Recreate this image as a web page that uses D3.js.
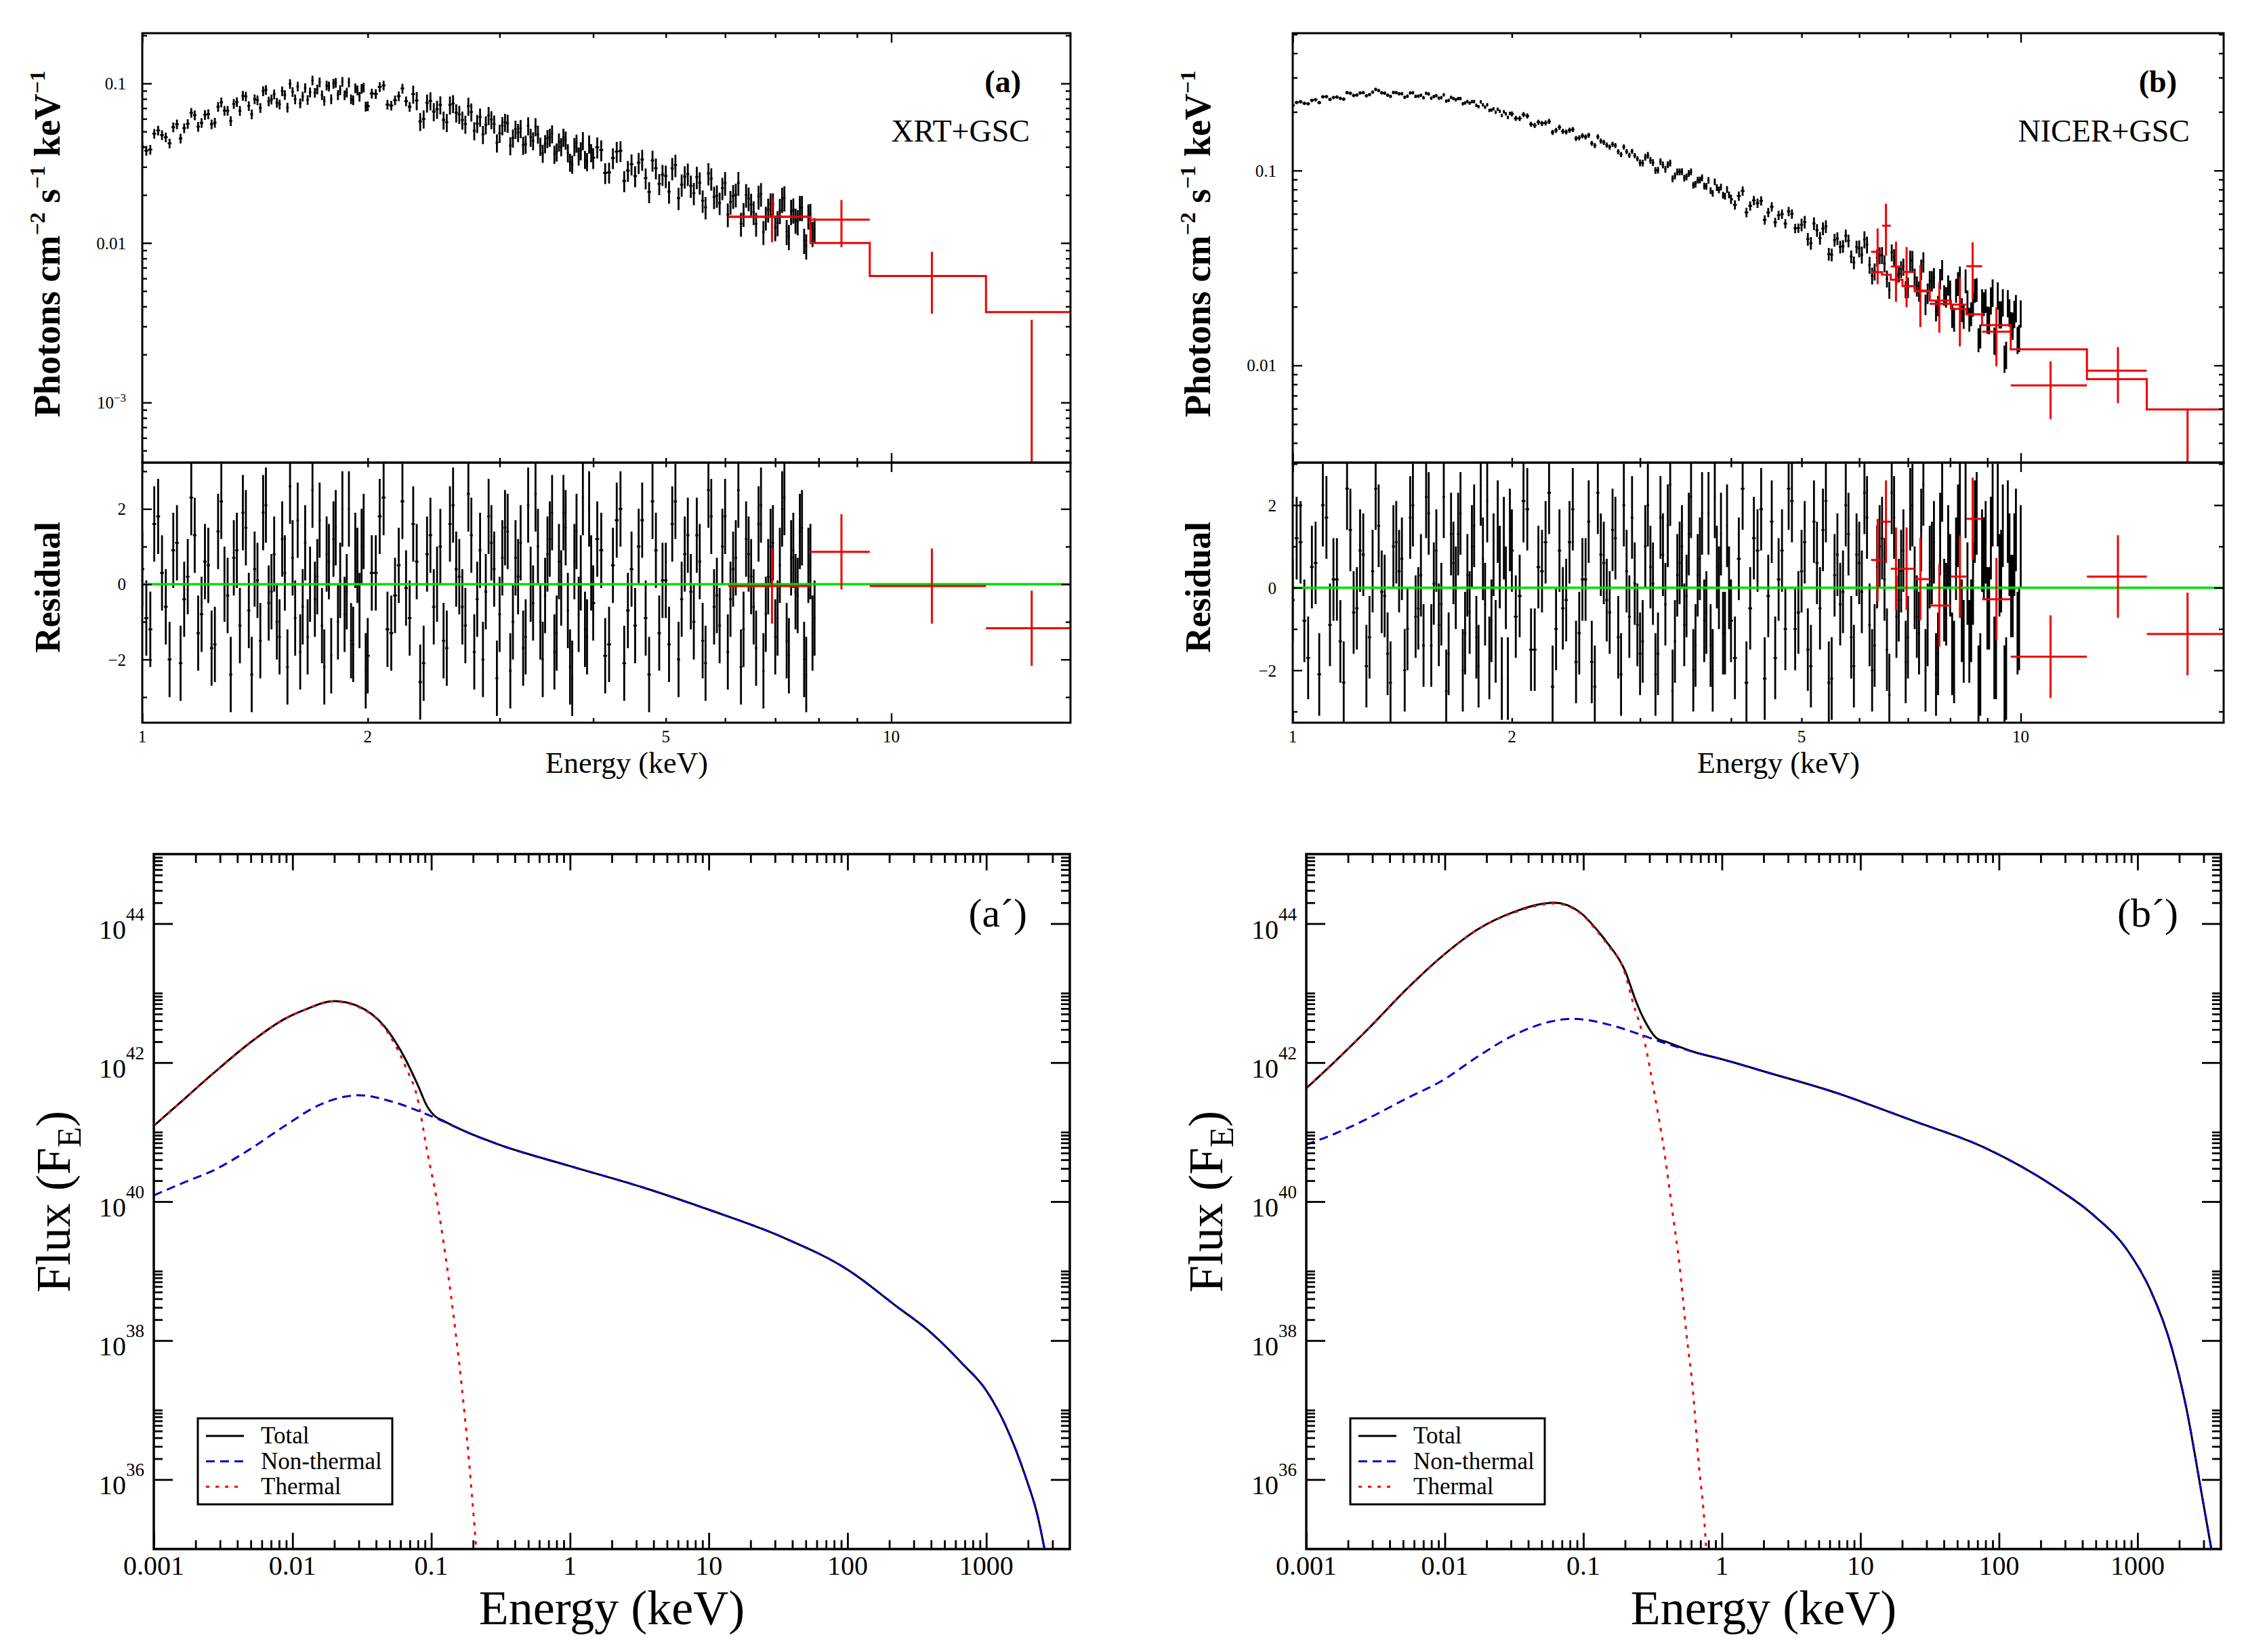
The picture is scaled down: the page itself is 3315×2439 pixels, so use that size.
<!DOCTYPE html>
<html>
<head>
<meta charset="utf-8">
<script src="https://cdn.jsdelivr.net/npm/d3@7"></script>
<style>
  body { margin: 0; background: #fff; }
  svg text { font-family: "Liberation Serif", "Times New Roman", serif; white-space: pre; }
</style>
</head>
<body>
<svg id="fig" width="3315" height="2439"></svg>
<script>
// ---------- spectral fits, top row ----------
// Swift/XRT bins (black), panel (a)
const xrtEnergy = [
  1.0000, 1.0125, 1.0250, 1.0375, 1.0500, 1.0625, 1.0750, 1.0875, 1.1000, 1.1125,
  1.1250, 1.1375, 1.1500, 1.1625, 1.1750, 1.1875, 1.2000, 1.2125, 1.2250, 1.2375,
  1.2500, 1.2625, 1.2750, 1.2875, 1.3000, 1.3125, 1.3250, 1.3375, 1.3500, 1.3625,
  1.3750, 1.3875, 1.4000, 1.4125, 1.4250, 1.4375, 1.4500, 1.4625, 1.4750, 1.4875,
  1.5000, 1.5125, 1.5250, 1.5375, 1.5500, 1.5625, 1.5750, 1.5875, 1.6000, 1.6125,
  1.6250, 1.6375, 1.6500, 1.6625, 1.6750, 1.6875, 1.7000, 1.7125, 1.7250, 1.7375,
  1.7500, 1.7625, 1.7750, 1.7875, 1.8000, 1.8125, 1.8250, 1.8375, 1.8500, 1.8625,
  1.8750, 1.8875, 1.9000, 1.9125, 1.9250, 1.9375, 1.9500, 1.9625, 1.9750, 1.9875,
  2.000, 2.025, 2.050, 2.075, 2.100, 2.125, 2.150, 2.175, 2.200, 2.225,
  2.250, 2.275, 2.300, 2.325, 2.350, 2.375, 2.400, 2.425, 2.450, 2.475,
  2.500, 2.525, 2.550, 2.575, 2.600, 2.625, 2.650, 2.675, 2.700, 2.725,
  2.750, 2.775, 2.800, 2.825, 2.850, 2.875, 2.900, 2.925, 2.950, 2.975,
  3.000, 3.025, 3.050, 3.075, 3.100, 3.125, 3.150, 3.175, 3.200, 3.225,
  3.250, 3.275, 3.300, 3.325, 3.350, 3.375, 3.400, 3.425, 3.450, 3.475,
  3.500, 3.525, 3.550, 3.575, 3.600, 3.625, 3.650, 3.675, 3.700, 3.725,
  3.750, 3.775, 3.800, 3.825, 3.850, 3.875, 3.900, 3.925, 3.950, 3.975,
  4.00, 4.05, 4.10, 4.15, 4.20, 4.25, 4.30, 4.35, 4.40, 4.45,
  4.50, 4.55, 4.60, 4.65, 4.70, 4.75, 4.80, 4.85, 4.90, 4.95,
  5.00, 5.05, 5.10, 5.15, 5.20, 5.25, 5.30, 5.35, 5.40, 5.45,
  5.50, 5.55, 5.60, 5.65, 5.70, 5.75, 5.80, 5.85, 5.90, 5.95,
  6.00, 6.05, 6.10, 6.15, 6.20, 6.25, 6.30, 6.35, 6.40, 6.45,
  6.50, 6.55, 6.60, 6.65, 6.70, 6.75, 6.80, 6.85, 6.90, 6.95,
  7.00, 7.05, 7.10, 7.15, 7.20, 7.25, 7.30, 7.35, 7.40, 7.45,
  7.50, 7.55, 7.60, 7.65, 7.70, 7.75, 7.80, 7.85, 7.90
];
const xrtFlux = [
  .0401, .0379, .0385, .0484, .0507, .0475, .0460, .0421, .0532, .0555,
  .0452, .0525, .0558, .0656, .0633, .0536, .0566, .0636, .0642, .0555,
  .0568, .0714, .0762, .0675, .0675, .0582, .0745, .0765, .0674, .0838,
  .0829, .0723, .0641, .0797, .0785, .0703, .0895, .0912, .0772, .0794,
  .0855, .0758, .0740, .0894, .0847, .0706, .0993, .0886, .0796, .0957,
  .0752, .0829, .0937, .0789, .0880, .1046, .0875, .0918, .1018, .0845,
  .0778, .0972, .0959, .0798, .0997, .1011, .0846, .0911, .1026, .0845,
  .0878, .1015, .0797, .0786, .0935, .0906, .0827, .0926, .0944, .0717,
  .0721, .0865, .0860, .0950, .0971, .0737, .0726, .0786, .0832, .0929,
  .0774, .0715, .0857, .0781, .0578, .0599, .0755, .0778, .0666, .0690,
  .0734, .0590, .0570, .0733, .0748, .0655, .0640, .0590, .0556, .0721,
  .0662, .0505, .0561, .0616, .0479, .0551, .0629, .0593, .0557, .0424,
  .0487, .0544, .0571, .0562, .0408, .0455, .0517, .0493, .0522, .0410,
  .0417, .0543, .0460, .0437, .0536, .0481, .0405, .0365, .0420, .0452,
  .0460, .0484, .0360, .0372, .0430, .0402, .0461, .0442, .0368, .0321,
  .0312, .0403, .0423, .0351, .0379, .0438, .0334, .0324, .0418, .0369,
  .0342, .0398, .0382, .0275, .0277, .0341, .0374, .0378, .0245, .0284,
  .0312, .0263, .0319, .0333, .0255, .0209, .0329, .0294, .0235, .0268,
  .0263, .0210, .0294, .0308, .0191, .0232, .0261, .0271, .0228, .0205,
  .0259, .0239, .0184, .0167, .0273, .0253, .0194, .0198, .0178, .0221,
  .0238, .0151, .0181, .0197, .0201, .0238, .0132, .0152, .0200, .0190,
  .0174, .0156, .0132, .0195, .0203, .0117, .0144, .0162, .0175, .0175,
  .0125, .0134, .0160, .0188, .0192, .0118, .0110, .0158, .0161, .0139,
  .0136, .0167, .0167, .0104, .0096, .0148, .0149, .0115, .0121
];
const xrtResid = [
  0.4, -0.9, -1.2, 1.6, 1.8, 0.3, -0.6, -2.0, 0.9, 1.1,
  -2.1, -0.4, 0.2, 2.3, 1.3, -1.3, -0.8, 0.6, 0.5, -1.7,
  -1.6, 1.4, 2.2, 0.0, -0.3, -2.4, 0.7, 0.9, -1.1, 1.9,
  1.5, -0.7, -2.4, 0.4, 0.1, -1.5, 1.9, 2.1, -0.5, -0.2,
  0.8, -1.0, -1.4, 1.2, 0.3, -2.2, 2.6, 0.7, -0.9, 1.7,
  -1.8, -0.6, 1.1, -1.4, 0.0, 2.5, -0.4, 0.2, 1.7, -1.1,
  -2.2, 0.8, 0.6, -1.9, 1.2, 1.5, -1.0, 0.1, 2.0, -0.8,
  -0.2, 2.0, -1.5, -1.6, 0.9, 0.5, -0.7, 1.0, 1.4, -2.3,
  -1.9, 0.3, 0.3, 1.8, 2.3, -1.2, -1.3, -0.3, 0.5, 2.2,
  -0.1, -0.9, 1.6, 0.6, -2.6, -2.1, 0.8, 1.3, -0.6, 0.0,
  1.0, -1.5, -1.7, 1.6, 2.1, 0.4, 0.2, -0.6, -1.1, 2.4,
  1.3, -1.8, -0.4, 0.9, -2.0, -0.2, 1.8, 1.1, 0.4, -2.5,
  -0.8, 0.7, 1.5, 1.4, -2.3, -1.0, 0.7, 0.2, 1.1, -1.7,
  -1.4, 2.1, 0.0, -0.5, 2.4, 1.0, -1.0, -2.0, -0.3, 0.8,
  1.2, 1.9, -1.8, -1.3, 0.6, -0.1, 1.9, 1.5, -0.7, -2.2,
  -2.5, 0.6, 1.4, -0.8, 0.3, 2.3, -1.2, -1.4, 2.0, 0.3,
  -0.5, 1.2, 0.9, -1.9, -1.6, 0.5, 1.7, 2.0, -2.1, -0.7,
  0.4, -1.1, 1.0, 1.7, -0.9, -2.4, 2.2, 0.9, -1.3, 0.1,
  0.1, -1.6, 1.6, 2.2, -2.0, -0.4, 0.8, 1.3, -0.2, -1.0,
  1.3, 0.6, -1.5, -2.1, 2.5, 1.8, -0.6, -0.3, -1.1, 1.0,
  1.8, -1.8, -0.4, 0.4, 0.7, 2.5, -2.2, -1.2, 1.2, 0.8,
  0.2, -0.6, -1.7, 1.6, 2.1, -2.3, -0.8, 0.2, 1.0, 1.1,
  -1.4, -0.9, 0.5, 2.0, 2.3, -1.5, -1.9, 0.7, 0.9, -0.2,
  -0.3, 1.4, 1.5, -2.0, -2.4, 0.5, 0.6, -1.3, -0.9
];
// fractional 1-sigma error of the XRT bins, by energy band (upper band edges in keV)
const xrtErrEdges = [2.3, 4, 5, 6, 7, 9];
const xrtRelErr = [0.07, 0.13, 0.15, 0.16, 0.17, 0.18];

// NICER bins (black), panel (b)
const nicerEnergy = [
  1.0000, 1.0125, 1.0250, 1.0375, 1.0500, 1.0625, 1.0750, 1.0875, 1.1000, 1.1125,
  1.1250, 1.1375, 1.1500, 1.1625, 1.1750, 1.1875, 1.2000, 1.2125, 1.2250, 1.2375,
  1.2500, 1.2625, 1.2750, 1.2875, 1.3000, 1.3125, 1.3250, 1.3375, 1.3500, 1.3625,
  1.3750, 1.3875, 1.4000, 1.4125, 1.4250, 1.4375, 1.4500, 1.4625, 1.4750, 1.4875,
  1.5000, 1.5125, 1.5250, 1.5375, 1.5500, 1.5625, 1.5750, 1.5875, 1.6000, 1.6125,
  1.6250, 1.6375, 1.6500, 1.6625, 1.6750, 1.6875, 1.7000, 1.7125, 1.7250, 1.7375,
  1.7500, 1.7625, 1.7750, 1.7875, 1.8000, 1.8125, 1.8250, 1.8375, 1.8500, 1.8625,
  1.8750, 1.8875, 1.9000, 1.9125, 1.9250, 1.9375, 1.9500, 1.9625, 1.9750, 1.9875,
  2.000, 2.025, 2.050, 2.075, 2.100, 2.125, 2.150, 2.175, 2.200, 2.225,
  2.250, 2.275, 2.300, 2.325, 2.350, 2.375, 2.400, 2.425, 2.450, 2.475,
  2.500, 2.525, 2.550, 2.575, 2.600, 2.625, 2.650, 2.675, 2.700, 2.725,
  2.750, 2.775, 2.800, 2.825, 2.850, 2.875, 2.900, 2.925, 2.950, 2.975,
  3.000, 3.025, 3.050, 3.075, 3.100, 3.125, 3.150, 3.175, 3.200, 3.225,
  3.250, 3.275, 3.300, 3.325, 3.350, 3.375, 3.400, 3.425, 3.450, 3.475,
  3.500, 3.525, 3.550, 3.575, 3.600, 3.625, 3.650, 3.675, 3.700, 3.725,
  3.750, 3.775, 3.800, 3.825, 3.850, 3.875, 3.900, 3.925, 3.950, 3.975,
  4.00, 4.05, 4.10, 4.15, 4.20, 4.25, 4.30, 4.35, 4.40, 4.45,
  4.50, 4.55, 4.60, 4.65, 4.70, 4.75, 4.80, 4.85, 4.90, 4.95,
  5.00, 5.05, 5.10, 5.15, 5.20, 5.25, 5.30, 5.35, 5.40, 5.45,
  5.50, 5.55, 5.60, 5.65, 5.70, 5.75, 5.80, 5.85, 5.90, 5.95,
  6.00, 6.05, 6.10, 6.15, 6.20, 6.25, 6.30, 6.35, 6.40, 6.45,
  6.50, 6.55, 6.60, 6.65, 6.70, 6.75, 6.80, 6.85, 6.90, 6.95,
  7.00, 7.05, 7.10, 7.15, 7.20, 7.25, 7.30, 7.35, 7.40, 7.45,
  7.50, 7.55, 7.60, 7.65, 7.70, 7.75, 7.80, 7.85, 7.90, 7.95,
  8.00, 8.05, 8.10, 8.15, 8.20, 8.25, 8.30, 8.35, 8.40, 8.45,
  8.50, 8.55, 8.60, 8.65, 8.70, 8.75, 8.80, 8.85, 8.90, 8.95,
  9.00, 9.05, 9.10, 9.15, 9.20, 9.25, 9.30, 9.35, 9.40, 9.45,
  9.50, 9.55, 9.60, 9.65, 9.70, 9.75, 9.80, 9.85, 9.90, 9.95,
  10.00
];
const nicerFlux = [
  .2160, .2235, .2257, .2213, .2202, .2292, .2311, .2232, .2390, .2395,
  .2318, .2372, .2387, .2348, .2327, .2512, .2491, .2428, .2442, .2503,
  .2510, .2419, .2455, .2525, .2611, .2572, .2506, .2497, .2440, .2404,
  .2517, .2511, .2475, .2481, .2377, .2408, .2502, .2508, .2404, .2407,
  .2431, .2364, .2490, .2470, .2350, .2399, .2422, .2353, .2366, .2448,
  .2272, .2289, .2375, .2341, .2310, .2340, .2342, .2202, .2223, .2260,
  .2220, .2258, .2260, .2160, .2128, .2251, .2173, .2117, .2176, .2037,
  .2045, .2075, .1990, .2063, .2015, .1919, .2005, .1955, .1876, .1965,
  .1953, .1852, .1851, .1937, .1906, .1728, .1704, .1772, .1747, .1757,
  .1787, .1570, .1609, .1667, .1590, .1578, .1613, .1624, .1461, .1473,
  .1508, .1487, .1518, .1380, .1344, .1491, .1418, .1396, .1350, .1320,
  .1366, .1344, .1251, .1208, .1323, .1252, .1199, .1256, .1193, .1149,
  .1095, .1093, .1170, .1198, .1129, .1099, .1001, .1005, .1112, .1069,
  .1016, .1071, .1093, .0908, .0940, .0985, .0985, .0988, .0915, .0928,
  .0967, .0985, .0842, .0851, .0894, .0896, .0919, .0833, .0830, .0892,
  .0789, .0764, .0876, .0818, .0795, .0823, .0748, .0739, .0800, .0751,
  .0712, .0667, .0740, .0786, .0610, .0659, .0703, .0680, .0700, .0558,
  .0609, .0652, .0543, .0589, .0598, .0534, .0617, .0599, .0505, .0507,
  .0527, .0544, .0445, .0424, .0535, .0494, .0450, .0504, .0517, .0373,
  .0370, .0440, .0448, .0406, .0409, .0463, .0436, .0362, .0337, .0406,
  .0398, .0370, .0443, .0417, .0328, .0289, .0303, .0357, .0367, .0368,
  .0333, .0279, .0244, .0380, .0359, .0289, .0296, .0312, .0321, .0246,
  .0252, .0347, .0345, .0280, .0256, .0241, .0312, .0340, .0206, .0235,
  .0272, .0272, .0282, .0191, .0203, .0279, .0310, .0230, .0225, .0259,
  .0239, .0181, .0173, .0244, .0264, .0282, .0194, .0179, .0273, .0213,
  .0173, .0185, .0207, .0244, .0246, .0136, .0142, .0216, .0208, .0216,
  .0173, .0172, .0217, .0238, .0135, .0133, .0230, .0184, .0184, .0212,
  .0109, .0114, .0210, .0188, .0162, .0161, .0185, .0198, .0136, .0139,
  .0186
];
const nicerResid = [
  -0.3, 1.2, 1.1, -0.8, -1.7, 0.5, 0.6, -2.1, 2.0, 1.7,
  -0.9, 0.2, 0.2, -1.3, -2.3, 2.4, 1.4, -0.6, -0.5, 0.9,
  0.8, -1.9, -1.2, 0.4, 2.4, 1.5, -0.1, -0.2, -1.6, -2.3,
  1.0, 1.1, 0.4, 0.7, -2.0, -1.0, 1.7, 2.0, -0.7, -0.5,
  0.3, -1.4, 2.2, 1.8, -1.4, 0.1, 0.9, -0.9, -0.4, 2.2,
  -2.5, -1.6, 1.3, 0.6, 0.0, 1.3, 1.8, -2.0, -1.1, 0.3,
  -0.6, 1.0, 1.5, -1.2, -1.9, 2.5, 0.7, -0.4, 2.1, -1.7,
  -0.8, 0.8, -1.3, 1.6, 0.5, -2.2, 1.2, 0.0, -2.2, 1.4,
  0.9, -0.7, -0.2, 2.1, 1.9, -1.5, -1.5, 0.5, 0.4, 1.1,
  2.3, -2.4, -1.0, 0.9, -0.5, -0.3, 1.1, 1.9, -1.8, -1.1,
  0.2, 0.2, 1.6, -1.8, -2.4, 2.3, 0.8, 0.6, -0.3, -0.6,
  1.4, 1.2, -1.2, -2.1, 2.0, 0.4, -0.7, 1.7, 0.1, -0.9,
  -1.6, -1.3, 1.0, 2.0, 0.5, 0.1, -2.1, -1.6, 1.7, 0.8,
  -0.4, 1.5, 2.5, -2.5, -1.3, 0.3, 0.6, 1.0, -0.9, -0.2,
  1.3, 2.2, -2.0, -1.4, 0.3, 0.7, 1.8, -0.8, -0.6, 1.8,
  -1.4, -2.0, 2.2, 0.5, 0.0, 1.3, -1.1, -1.1, 1.5, 0.0,
  -0.8, -1.7, 0.7, 2.4, -2.3, -0.5, 1.2, 0.9, 1.9, -2.2,
  -0.2, 1.6, -1.7, 0.2, 0.9, -1.0, 2.4, 2.1, -1.0, -0.6,
  0.4, 1.1, -1.5, -1.9, 1.6, 0.6, -0.5, 1.4, 2.1, -2.3,
  -2.2, 0.3, 0.8, -0.4, -0.1, 2.0, 1.3, -1.2, -1.9, 0.8,
  0.6, -0.1, 2.3, 1.7, -0.9, -2.0, -1.4, 0.5, 1.0, 1.2,
  0.2, -1.5, -2.6, 2.3, 1.7, -0.7, -0.3, 0.4, 0.9, -1.8,
  -1.2, 1.9, 2.0, 0.0, -0.7, -1.1, 1.4, 2.5, -2.0, -0.9,
  0.5, 0.6, 1.1, -2.1, -1.6, 1.3, 2.6, -0.3, -0.4, 1.0,
  0.3, -1.6, -1.8, 0.7, 1.5, 2.2, -0.8, -1.3, 2.2, 0.1,
  -1.3, -0.8, 0.1, 1.6, 1.8, -2.4, -2.1, 0.9, 0.7, 1.1,
  -0.5, -0.5, 1.2, 2.0, -1.7, -1.7, 2.0, 0.3, 0.4, 1.5,
  -2.4, -2.2, 1.6, 0.8, -0.2, -0.2, 0.8, 1.4, -1.1, -1.0,
  1.0
];
const nicerErrEdges = [2, 3, 4, 5, 6, 7, 8, 9, 11];
const nicerRelErr = [0.02, 0.03, 0.04, 0.055, 0.075, 0.10, 0.12, 0.14, 0.16];

// MAXI/GSC bins (red)
const gscALo = [6.06, 7.80, 9.36, 13.38];
const gscAHi = [7.80, 9.36, 13.38, 20.0];
const gscAE = [6.93, 8.58, 11.33, 15.4];
const gscAFlux = [0.0146, 0.0140, 0.0062, 0.0003];
const gscAErr = [0.0045, 0.0046, 0.0026, 0.0030];
const gscAModel = [0.0146, 0.0100, 0.0062, 0.00369];
const gscAResid = [-0.05, 0.86, -0.05, -1.17];

const gscBLo = [6.23, 6.45, 6.63, 6.88, 7.15, 7.50, 8.02, 8.42, 8.85, 9.69, 12.33, 14.9];
const gscBHi = [6.45, 6.63, 6.88, 7.15, 7.50, 8.02, 8.42, 8.85, 9.69, 12.33, 14.9, 20.0];
const gscBE = [6.36, 6.53, 6.74, 6.97, 7.28, 7.73, 8.25, 8.59, 9.26, 10.99, 13.6, 16.95];
const gscBFlux = [0.0383, 0.0521, 0.0322, 0.0302, 0.0242, 0.0207, 0.0205, 0.0323, 0.0149, 0.0079, 0.0094, 0.0020];
const gscBErr = [0.0122, 0.0155, 0.0110, 0.0103, 0.0085, 0.0060, 0.0080, 0.0105, 0.0050, 0.0026, 0.0030, 0.0039];
const gscBModel = [0.0301, 0.0292, 0.0275, 0.0255, 0.0240, 0.0215, 0.0195, 0.0183, 0.0161, 0.0121, 0.0085, 0.00594];
const gscBResid = [0.67, 1.60, 0.46, 0.46, 0.21, -0.43, 0.27, 1.67, -0.28, -1.67, 0.27, -1.12];

// tick labels, top row
const energyTickLabels = [1, 2, 5, 10];
const fluxTicksA = [0.1, 0.01, 0.001];
const fluxTicksB = [0.1, 0.01];
const residTicks = [-2, 0, 2];
const residMinor = [-3, -1, 1, 3];

// ---------- model components, bottom row ----------
const totalAE = [0.001, 0.0015, 0.0027, 0.0049, 0.0088, 0.0126, 0.020, 0.029, 0.046, 0.066, 0.079, 0.094, 0.106, 0.12, 0.17, 0.307, 1.0, 3.28, 10.1, 34.7, 100, 230, 370, 670, 1000, 1375, 1950, 2330, 2630];
const totalAF = [1.23e41, 2.51e41, 7.08e41, 1.91e42, 4.27e42, 5.89e42, 7.67e42, 6.61e42, 3.31e42, 1.06e42, 5.01e41, 2.29e41, 1.70e41, 1.48e41, 1.05e41, 6.61e40, 3.24e40, 1.62e40, 7.59e39, 3.02e39, 1.05e39, 3.02e38, 1.48e38, 4.68e37, 1.91e37, 6.03e36, 1.00e36, 3.16e35, 1.00e35];
const nonthAE = [0.001, 0.00168, 0.0027, 0.0049, 0.0088, 0.016, 0.030, 0.052, 0.094, 0.12, 0.17, 0.307, 1.0, 3.28, 10.1, 34.7, 100, 230, 370, 670, 1000, 1375, 1950, 2330, 2630];
const nonthAF = [1.23e40, 1.91e40, 2.82e40, 5.62e40, 1.23e41, 2.51e41, 3.39e41, 2.75e41, 1.78e41, 1.45e41, 1.05e41, 6.61e40, 3.24e40, 1.62e40, 7.59e39, 3.02e39, 1.05e39, 3.02e38, 1.48e38, 4.68e37, 1.91e37, 6.03e36, 1.00e36, 3.16e35, 1.00e35];
const thermAE = [0.001, 0.0015, 0.0027, 0.0049, 0.0088, 0.0126, 0.020, 0.029, 0.046, 0.066, 0.079, 0.0945, 0.109, 0.127, 0.152, 0.181, 0.211];
const thermAF = [1.23e41, 2.51e41, 7.08e41, 1.91e42, 4.27e42, 5.89e42, 7.59e42, 6.46e42, 3.16e42, 8.32e41, 3.24e41, 4.68e40, 1.12e40, 1.58e39, 1.02e38, 3.80e36, 1.00e35];

const totalBE = [0.001, 0.00158, 0.00288, 0.00525, 0.00956, 0.0174, 0.0318, 0.0614, 0.0935, 0.134, 0.148, 0.20, 0.241, 0.281, 0.339, 0.394, 0.638, 1.03, 2.12, 7.04, 10.1, 23.4, 77.8, 258, 471, 858, 1230, 1763, 2240, 2850, 3410];
const totalBF = [4.27e41, 1.00e42, 3.24e42, 1.12e43, 3.39e43, 8.32e43, 1.48e44, 2.00e44, 1.48e44, 6.92e43, 5.37e43, 2.09e43, 7.41e42, 3.80e42, 2.24e42, 2.00e42, 1.41e42, 1.10e42, 7.24e41, 3.55e41, 2.75e41, 1.48e41, 6.03e40, 1.58e40, 6.61e39, 1.91e39, 5.50e38, 7.94e37, 1.12e37, 7.76e35, 1.00e35];
const nonthBE = [0.001, 0.00158, 0.00288, 0.00525, 0.00956, 0.0174, 0.0318, 0.058, 0.083, 0.15, 0.244, 0.35, 0.638, 1.03, 2.12, 7.04, 10.1, 23.4, 77.8, 258, 471, 858, 1230, 1763, 2240, 2850, 3410];
const nonthBF = [6.61e40, 9.33e40, 1.62e41, 3.02e41, 5.50e41, 1.23e42, 2.51e42, 3.89e42, 4.27e42, 3.55e42, 2.63e42, 2.04e42, 1.41e42, 1.10e42, 7.24e41, 3.55e41, 2.75e41, 1.48e41, 6.03e40, 1.58e40, 6.61e39, 1.91e39, 5.50e38, 7.94e37, 1.12e37, 7.76e35, 1.00e35];
const thermBE = [0.001, 0.00158, 0.00288, 0.00525, 0.00956, 0.0174, 0.0318, 0.0614, 0.0935, 0.134, 0.148, 0.20, 0.224, 0.281, 0.326, 0.386, 0.441, 0.494, 0.553, 0.619, 0.680, 0.742, 0.77];
const thermBF = [4.27e41, 1.00e42, 3.24e42, 1.12e43, 3.39e43, 8.32e43, 1.45e44, 1.95e44, 1.45e44, 6.61e43, 5.13e43, 1.91e43, 8.32e42, 1.74e42, 3.55e41, 4.90e40, 6.76e39, 1.23e39, 1.32e38, 1.82e37, 1.70e36, 3.02e35, 1.00e35];

const modelXTicks = [0.001, 0.01, 0.1, 1, 10, 100, 1000];
const modelXLabels = ["0.001", "0.01", "0.1", "1", "10", "100", "1000"];
const modelYExponents = [36, 38, 40, 42, 44];
const legendNames = ["Total", "Non-thermal", "Thermal"];

// ---------- drawing ----------
const svg = d3.select("#fig");
svg.append("rect").attr("width", 3315).attr("height", 2439).attr("fill", "#fff");
const RED = "#f00000", GREEN = "#00dd00", BLUE = "#0000d0";
let clipCount = 0;

function clipFor(box) {
  const id = "clip" + (clipCount++);
  svg.append("clipPath").attr("id", id).append("rect")
    .attr("x", box.left).attr("y", box.top)
    .attr("width", box.right - box.left).attr("height", box.bottom - box.top);
  return `url(#${id})`;
}

function tickSet(g, axis, scale, values, len, tr, w) {
  const s = g.append("g").attr("transform", tr)
    .call(axis(scale).tickValues(values).tickSizeInner(-len).tickSizeOuter(0).tickFormat(""));
  s.select(".domain").remove();
  s.selectAll(".tick text").remove();
  s.selectAll(".tick line").attr("stroke", "#000").attr("stroke-width", w);
}

function boxTicks(g, x, y, box, xt, yt, w) {
  xt.forEach(([v, l]) => {
    tickSet(g, d3.axisBottom, x, v, l, `translate(0,${box.bottom})`, w);
    tickSet(g, d3.axisTop, x, v, l, `translate(0,${box.top})`, w);
  });
  yt.forEach(([v, l]) => {
    tickSet(g, d3.axisLeft, y, v, l, `translate(${box.left},0)`, w);
    tickSet(g, d3.axisRight, y, v, l, `translate(${box.right},0)`, w);
  });
}

function logMinor(domain, step, kmax) {
  const out = [];
  let lo = Math.floor(Math.log10(domain[0]));
  if (step === 2 && lo % 2 !== 0) lo -= 1;
  const hi = Math.ceil(Math.log10(domain[1]));
  for (let n = lo; n <= hi; n += step) {
    for (let k = 2; k <= kmax; k++) {
      const v = k * Math.pow(10, n);
      if (v > domain[0] * 1.0001 && v < domain[1] * 0.9999) out.push(v);
    }
  }
  return out;
}

function decades(domain) {
  const out = [];
  for (let n = Math.ceil(Math.log10(domain[0])); n <= Math.floor(Math.log10(domain[1])); n++) out.push(Math.pow(10, n));
  return out;
}

function binEdges(e) {
  return e.map((v, i) => [
    i > 0 ? (e[i - 1] + v) / 2 : v - (e[1] - e[0]) / 2,
    i < e.length - 1 ? (v + e[i + 1]) / 2 : v + (v - e[i - 1]) / 2
  ]);
}

function bandErr(energy, flux, edges, rel) {
  return flux.map((f, i) => {
    const k = edges.findIndex(ed => energy[i] < ed);
    return f * rel[k < 0 ? rel.length - 1 : k];
  });
}

function crossPath(x, y, E, lo, hi, val, err, floor) {
  const p = d3.path();
  E.forEach((e, i) => {
    if (val[i] === undefined) return;
    p.moveTo(x(lo[i]), y(val[i]));
    p.lineTo(x(hi[i]), y(val[i]));
    p.moveTo(x(e), y(Math.max(val[i] - err[i], floor)));
    p.lineTo(x(e), y(val[i] + err[i]));
  });
  return p.toString();
}

function spectrumPanel(p) {
  const g = svg.append("g");
  const spec = { left: p.left, right: p.right, top: p.top, bottom: p.mid };
  const res = { left: p.left, right: p.right, top: p.mid, bottom: p.bottom };
  const x = d3.scaleLog().domain(p.xDomain).range([p.left, p.right]);
  const y = d3.scaleLog().domain(p.yDomain).range([p.mid, p.top]);
  const r = d3.scaleLinear().domain(p.rDomain).range([p.bottom, p.mid]);
  const floor = p.yDomain[0] / 10;

  const edges = binEdges(p.energy);
  const lo = edges.map(d => d[0]), hi = edges.map(d => d[1]);
  const err = bandErr(p.energy, p.flux, p.errEdges, p.relErr);

  // black data, spectrum
  g.append("path").attr("clip-path", clipFor(spec))
    .attr("d", crossPath(x, y, p.energy, lo, hi, p.flux, err, floor))
    .attr("fill", "none").attr("stroke", "#000").attr("stroke-width", 2.8);

  // red model histogram and GSC points
  const mp = d3.path();
  p.gscLo.forEach((l, i) => {
    if (i === 0) mp.moveTo(x(l), y(p.gscModel[i])); else mp.lineTo(x(l), y(p.gscModel[i]));
    mp.lineTo(x(p.gscHi[i]), y(p.gscModel[i]));
  });
  const specClip = clipFor(spec);
  g.append("path").attr("clip-path", specClip).attr("d", mp.toString())
    .attr("fill", "none").attr("stroke", RED).attr("stroke-width", 3);
  g.append("path").attr("clip-path", specClip)
    .attr("d", crossPath(x, y, p.gscE, p.gscLo, p.gscHi, p.gscFlux, p.gscErr, floor))
    .attr("fill", "none").attr("stroke", RED).attr("stroke-width", 3);

  // residuals
  const resClip = clipFor(res);
  g.append("path").attr("clip-path", resClip)
    .attr("d", crossPath(x, r, p.energy, lo, hi, p.resid, p.energy.map(() => 1), -100))
    .attr("fill", "none").attr("stroke", "#000").attr("stroke-width", 2.8);
  g.append("line").attr("x1", p.left).attr("x2", p.right).attr("y1", r(0)).attr("y2", r(0))
    .attr("stroke", GREEN).attr("stroke-width", 3.5);
  g.append("path").attr("clip-path", resClip)
    .attr("d", crossPath(x, r, p.gscE, p.gscLo, p.gscHi, p.gscResid, p.gscResid.map(() => 1), -100))
    .attr("fill", "none").attr("stroke", RED).attr("stroke-width", 3);

  // frames and ticks
  [spec, res].forEach(b => g.append("rect").attr("x", b.left).attr("y", b.top)
    .attr("width", b.right - b.left).attr("height", b.bottom - b.top)
    .attr("fill", "none").attr("stroke", "#000").attr("stroke-width", 3));
  const xMaj = decades(p.xDomain), xMin = logMinor(p.xDomain, 1, 9);
  boxTicks(g, x, y, spec, [[xMaj, 14], [xMin, 7]], [[decades(p.yDomain), 14], [logMinor(p.yDomain, 1, 9), 7]], 2.4);
  boxTicks(g, x, r, res, [[xMaj, 14], [xMin, 7]], [[residTicks, 14], [residMinor, 7]], 2.4);

  // tick labels
  energyTickLabels.forEach(v => g.append("text").attr("x", x(v)).attr("y", p.bottom + 29)
    .attr("text-anchor", "middle").attr("font-size", 25).text(v));
  p.fluxTicks.forEach(v => {
    const t = g.append("text").attr("x", p.left - 24).attr("y", y(v) + 9)
      .attr("text-anchor", "end").attr("font-size", 25);
    if (v >= 0.01) t.text(String(v));
    else {
      t.append("tspan").text("10");
      t.append("tspan").attr("font-size", 17).attr("dy", -10).text("\u2212" + Math.round(-Math.log10(v)));
    }
  });
  residTicks.forEach(v => g.append("text").attr("x", p.left - 24).attr("y", r(v) + 9)
    .attr("text-anchor", "end").attr("font-size", 25).text(v < 0 ? "\u2212" + (-v) : v));

  // axis titles
  g.append("text").attr("x", (p.left + p.right) / 2 + 30).attr("y", p.bottom + 74)
    .attr("text-anchor", "middle").attr("font-size", 44).text("Energy (keV)");
  const yt = g.append("text")
    .attr("transform", `translate(${p.left - 122},${(p.top + p.mid) / 2 - 6}) rotate(-90)`)
    .attr("text-anchor", "middle").attr("font-size", 54).attr("font-weight", "bold");
  yt.append("tspan").text("Photons cm");
  yt.append("tspan").attr("font-size", 32).attr("dy", -22).text("\u22122");
  yt.append("tspan").attr("dy", 22).text(" s");
  yt.append("tspan").attr("font-size", 32).attr("dy", -22).text("\u22121");
  yt.append("tspan").attr("dy", 22).text(" keV");
  yt.append("tspan").attr("font-size", 32).attr("dy", -22).text("\u22121");
  g.append("text")
    .attr("transform", `translate(${p.left - 122},${(p.mid + p.bottom) / 2 - 8}) rotate(-90)`)
    .attr("text-anchor", "middle").attr("font-size", 52).attr("font-weight", "bold").text("Residual");

  g.append("text").attr("x", p.right - p.tagOffset).attr("y", p.top + 87)
    .attr("text-anchor", "end").attr("font-size", 46).attr("font-weight", "bold").text(p.tag);
  g.append("text").attr("x", p.right - p.instOffset).attr("y", p.top + 160)
    .attr("text-anchor", "end").attr("font-size", 46).text(p.inst);
}

function modelPanel(p) {
  const g = svg.append("g");
  const box = { left: p.left, right: p.right, top: p.top, bottom: p.bottom };
  const x = d3.scaleLog().domain([0.001, 4000]).range([p.left, p.right]);
  const y = d3.scaleLog().domain([1e35, 1e45]).range([p.bottom, p.top]);
  const line = d3.line().x(d => x(d[0])).y(d => y(d[1])).curve(d3.curveMonotoneX);
  const clip = clipFor(box);
  const series = [
    { e: p.totalE, f: p.totalF, color: "#000", dash: null },
    { e: p.nonthE, f: p.nonthF, color: BLUE, dash: "13,8" },
    { e: p.thermE, f: p.thermF, color: RED, dash: "5,9" }
  ];
  series.forEach(s => g.append("path").attr("clip-path", clip)
    .attr("d", line(d3.zip(s.e, s.f))).attr("fill", "none")
    .attr("stroke", s.color).attr("stroke-width", 3).attr("stroke-dasharray", s.dash));

  g.append("rect").attr("x", p.left).attr("y", p.top)
    .attr("width", p.right - p.left).attr("height", p.bottom - p.top)
    .attr("fill", "none").attr("stroke", "#000").attr("stroke-width", 3.5);
  const yDom = [1e35, 1e45];
  boxTicks(g, x, y, box, [[modelXTicks, 24], [logMinor([0.001, 4000], 1, 9), 13]], [], 2.8);
  boxTicks(g, x, y, box, [], [[modelYExponents.map(n => Math.pow(10, n)), 28], [logMinor(yDom, 2, 10), 13]], 2.8);

  modelXTicks.forEach((v, i) => g.append("text").attr("x", x(v)).attr("y", p.bottom + 38)
    .attr("text-anchor", "middle").attr("font-size", 40).text(modelXLabels[i]));
  modelYExponents.forEach(n => {
    const t = g.append("text").attr("x", p.left - 14).attr("y", y(Math.pow(10, n)) + 22)
      .attr("text-anchor", "end").attr("font-size", 40);
    t.append("tspan").text("10");
    t.append("tspan").attr("font-size", 27).attr("dy", -27).text(n);
  });

  g.append("text").attr("x", (p.left + p.right) / 2).attr("y", p.bottom + 111)
    .attr("text-anchor", "middle").attr("font-size", 72).text("Energy (keV)");
  const yt = g.append("text")
    .attr("transform", `translate(${p.left - 124},${(p.top + p.bottom) / 2}) rotate(-90)`)
    .attr("text-anchor", "middle").attr("font-size", 72);
  yt.append("tspan").text("Flux (F");
  yt.append("tspan").attr("font-size", 50).attr("dy", 16).text("E");
  yt.append("tspan").attr("dy", -16).text(")");

  g.append("text").attr("x", p.right - 63).attr("y", p.top + 107)
    .attr("text-anchor", "end").attr("font-size", 60).text(p.tag);

  // legend
  const lx = p.left + 65, ly = 2094;
  g.append("rect").attr("x", lx).attr("y", ly).attr("width", 287).attr("height", 127)
    .attr("fill", "#fff").attr("stroke", "#000").attr("stroke-width", 3);
  legendNames.forEach((name, i) => {
    const cy = ly + 26 + i * 37.5;
    g.append("line").attr("x1", lx + 12).attr("x2", lx + 68).attr("y1", cy).attr("y2", cy)
      .attr("stroke", series[i].color).attr("stroke-width", 3).attr("stroke-dasharray", series[i].dash);
    g.append("text").attr("x", lx + 93).attr("y", cy + 11).attr("font-size", 35).text(name);
  });
}

spectrumPanel({
  left: 210, right: 1580, top: 49, mid: 683, bottom: 1067,
  xDomain: [1, 17.35], yDomain: [4.2e-4, 0.2065], rDomain: [-3.68, 3.23],
  energy: xrtEnergy, flux: xrtFlux, resid: xrtResid, errEdges: xrtErrEdges, relErr: xrtRelErr,
  gscLo: gscALo, gscHi: gscAHi, gscE: gscAE, gscFlux: gscAFlux, gscErr: gscAErr,
  gscModel: gscAModel, gscResid: gscAResid,
  fluxTicks: fluxTicksA, tag: "(a)", inst: "XRT+GSC", tagOffset: 73, instOffset: 60
});
spectrumPanel({
  left: 1908, right: 3282, top: 49, mid: 683, bottom: 1067,
  xDomain: [1, 19.0], yDomain: [3.17e-3, 0.507], rDomain: [-3.27, 3.03],
  energy: nicerEnergy, flux: nicerFlux, resid: nicerResid, errEdges: nicerErrEdges, relErr: nicerRelErr,
  gscLo: gscBLo, gscHi: gscBHi, gscE: gscBE, gscFlux: gscBFlux, gscErr: gscBErr,
  gscModel: gscBModel, gscResid: gscBResid,
  fluxTicks: fluxTicksB, tag: "(b)", inst: "NICER+GSC", tagOffset: 69, instOffset: 50
});
modelPanel({
  left: 227, right: 1579, top: 1261, bottom: 2287, tag: "(a\u00b4)",
  totalE: totalAE, totalF: totalAF, nonthE: nonthAE, nonthF: nonthAF, thermE: thermAE, thermF: thermAF
});
modelPanel({
  left: 1928, right: 3278, top: 1261, bottom: 2287, tag: "(b\u00b4)",
  totalE: totalBE, totalF: totalBF, nonthE: nonthBE, nonthF: nonthBF, thermE: thermBE, thermF: thermBF
});
</script>
</body>
</html>
